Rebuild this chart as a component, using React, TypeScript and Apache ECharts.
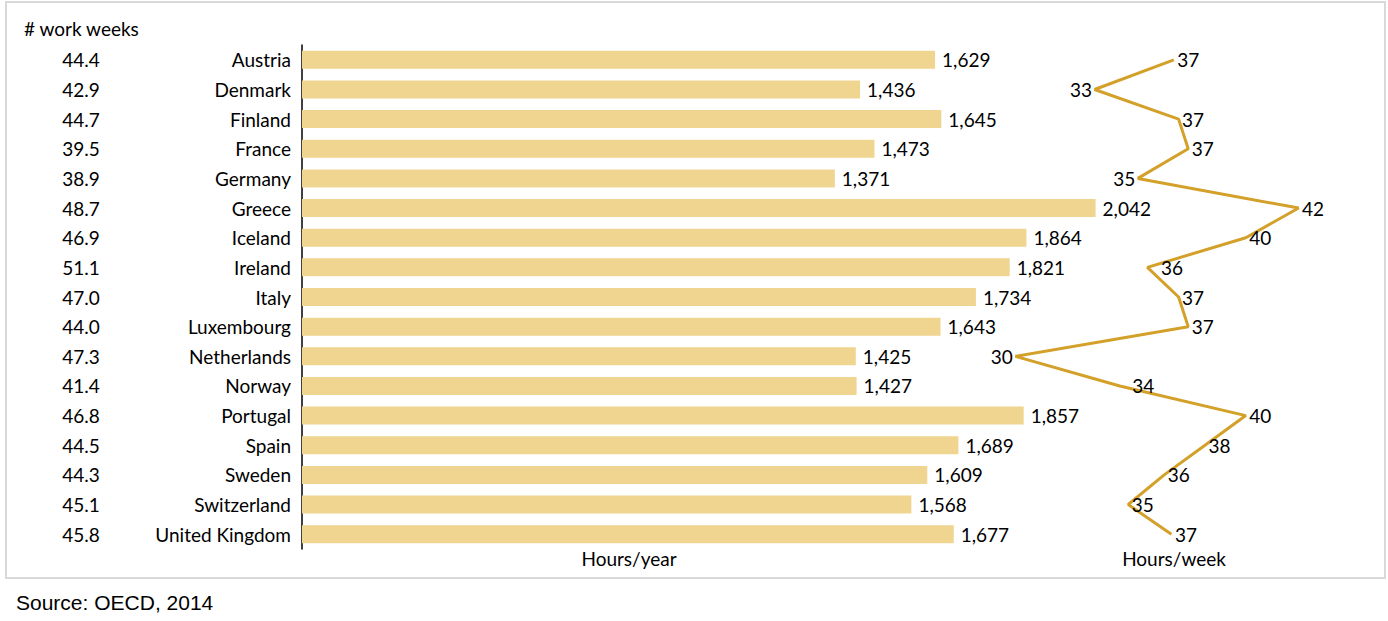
import React, { useEffect, useRef } from "react";
import * as echarts from "echarts";

const countries = [
  "Austria", "Denmark", "Finland", "France", "Germany", "Greece", "Iceland", "Ireland",
  "Italy", "Luxembourg", "Netherlands", "Norway", "Portugal", "Spain", "Sweden",
  "Switzerland", "United Kingdom",
];
const hoursPerYear = [1629, 1436, 1645, 1473, 1371, 2042, 1864, 1821, 1734, 1643, 1425, 1427, 1857, 1689, 1609, 1568, 1677];
const workWeeks = [44.4, 42.9, 44.7, 39.5, 38.9, 48.7, 46.9, 51.1, 47.0, 44.0, 47.3, 41.4, 46.8, 44.5, 44.3, 45.1, 45.8];
const hoursPerWeek = [36.7, 33.4, 36.9, 37.3, 35.2, 41.9, 39.7, 35.6, 36.9, 37.3, 30.1, 34.45, 39.7, 38.0, 36.3, 34.8, 36.6];
const leftLabelCountries = ["Denmark", "Germany", "Netherlands"];
const labelShift: Record<string, [number, number]> = { Ireland: [10, 0], Norway: [9, 0] };

const FONT = "Lato";
const FS = 19;

export default function App() {
  const ref = useRef<HTMLDivElement>(null);
  useEffect(() => {
    const chart = echarts.init(ref.current!, null, { renderer: "svg" });
    const gridTop = 45;
    const gridHeight = 504;
    chart.setOption({
      animation: false,
      textStyle: { fontFamily: FONT },
      grid: [
        { left: 302, top: gridTop, width: 855, height: gridHeight },
        { left: 1013, top: gridTop, width: 288, height: gridHeight },
      ],
      xAxis: [
        { gridIndex: 0, type: "value", min: 0, max: 2200, show: false },
        { gridIndex: 1, type: "value", min: 30, max: 42, show: false },
      ],
      yAxis: [
        {
          gridIndex: 0,
          type: "category",
          data: countries,
          inverse: true,
          axisLine: { show: true, lineStyle: { color: "#000", width: 1.5 } },
          axisTick: { show: false },
          axisLabel: { color: "#000", fontSize: FS, fontFamily: FONT, margin: 11 },
        },
        {
          gridIndex: 0,
          type: "category",
          position: "left",
          offset: 221,
          data: workWeeks.map((w) => w.toFixed(1)),
          inverse: true,
          axisLine: { show: false },
          axisTick: { show: false },
          axisLabel: { color: "#000", fontSize: FS, fontFamily: FONT, margin: 0, align: "center" },
        },
        { gridIndex: 1, type: "category", data: countries, inverse: true, show: false },
      ],
      series: [
        {
          type: "bar",
          xAxisIndex: 0,
          yAxisIndex: 0,
          data: hoursPerYear,
          barWidth: 18,
          itemStyle: { color: "#F0D591" },
          label: {
            show: true,
            position: "right",
            distance: 7,
            color: "#000",
            fontSize: FS,
            fontFamily: FONT,
            formatter: (p: any) => p.value.toLocaleString("en-US"),
          },
        },
        {
          type: "line",
          xAxisIndex: 1,
          yAxisIndex: 2,
          data: hoursPerWeek.map((v, i) => {
            const c = countries[i];
            const base = leftLabelCountries.includes(c)
              ? { position: "left", distance: 2 }
              : { position: "right", distance: 3 };
            return {
              value: [v, c],
              label: labelShift[c] ? { ...base, offset: labelShift[c] } : base,
            };
          }),
          symbol: "circle",
          symbolSize: 1,
          itemStyle: { color: "rgba(0,0,0,0)" },
          lineStyle: { color: "#D3A02A", width: 3 },
          label: {
            show: true,
            color: "#000",
            fontSize: FS,
            fontFamily: FONT,
            formatter: (p: any) => String(Math.round(p.value[0])),
          },
        },
      ],
      graphic: [
        {
          type: "rect",
          shape: { x: 6, y: 2, width: 1379, height: 576 },
          style: { fill: "none", stroke: "#D9D9D9", lineWidth: 2 },
          silent: true,
        },
        {
          type: "text",
          x: 24,
          y: 28,
          style: { text: "# work weeks", fill: "#000", font: `${FS}px ${FONT}`, verticalAlign: "middle" },
        },
        {
          type: "text",
          x: 629,
          y: 558,
          style: { text: "Hours/year", fill: "#000", font: `${FS}px ${FONT}`, align: "center", verticalAlign: "middle" },
        },
        {
          type: "text",
          x: 1174,
          y: 558,
          style: { text: "Hours/week", fill: "#000", font: `${FS}px ${FONT}`, align: "center", verticalAlign: "middle" },
        },
        {
          type: "text",
          x: 16,
          y: 602,
          style: { text: "Source: OECD, 2014", fill: "#000", font: "21px 'Liberation Sans'", verticalAlign: "middle" },
        },
      ],
    });
    return () => chart.dispose();
  }, []);
  return (
    <div
      ref={ref}
      style={{ position: "absolute", left: 0, top: 0, width: 1388, height: 621, background: "#fff" }}
    />
  );
}
